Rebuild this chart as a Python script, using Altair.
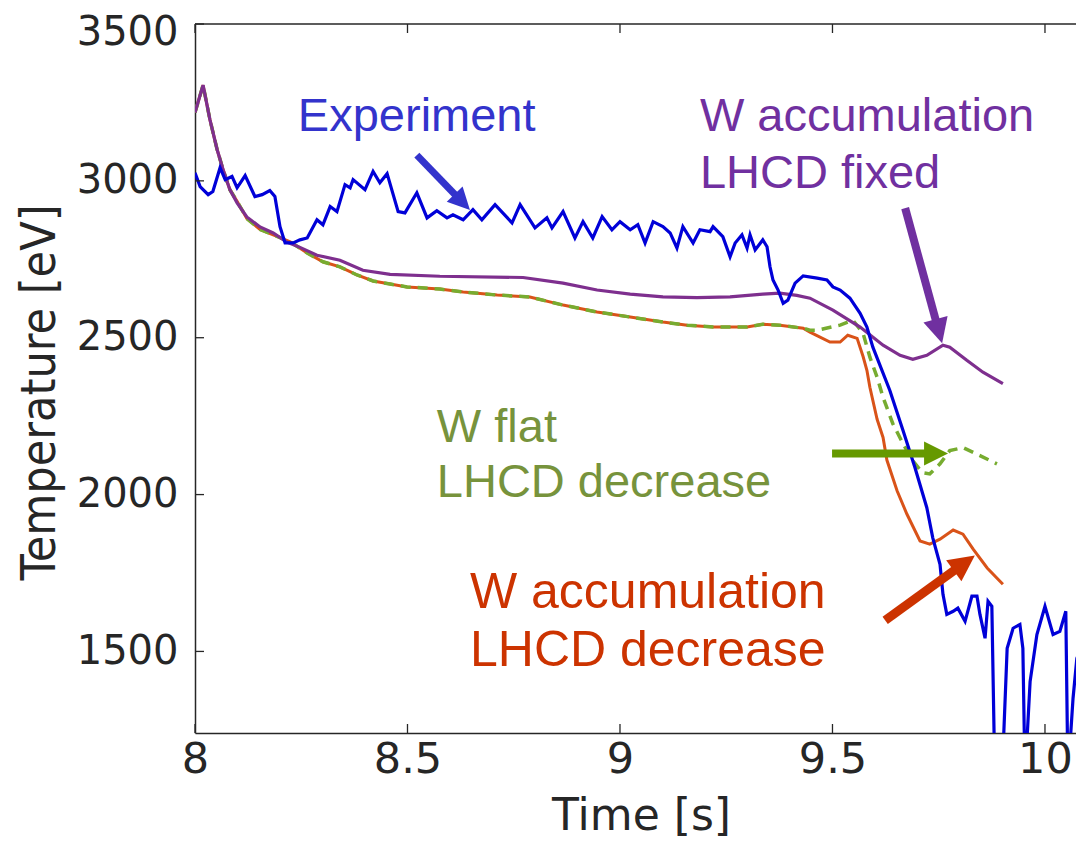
import math
import altair as alt
import pandas as pd

# ---------------- data ----------------
exp_t = [8.000, 8.012, 8.031, 8.042, 8.059, 8.071, 8.087, 8.099, 8.118, 8.141, 8.158, 8.176,
         8.188, 8.200, 8.212, 8.231, 8.247, 8.264, 8.287, 8.301, 8.318, 8.334, 8.353, 8.365,
         8.372, 8.400, 8.419, 8.435, 8.452, 8.478, 8.494, 8.522, 8.546, 8.569, 8.593, 8.607,
         8.631, 8.654, 8.675, 8.706, 8.746, 8.765, 8.800, 8.828, 8.840, 8.866, 8.894, 8.913,
         8.936, 8.958, 8.981, 9.000, 9.024, 9.042, 9.059, 9.078, 9.101, 9.118, 9.134, 9.148,
         9.172, 9.188, 9.212, 9.219, 9.242, 9.259, 9.271, 9.287, 9.299, 9.306, 9.318, 9.336,
         9.346, 9.353, 9.360, 9.372, 9.384, 9.395, 9.412, 9.431, 9.464, 9.487, 9.501, 9.518,
         9.541, 9.565, 9.581, 9.595, 9.635, 9.666, 9.694, 9.722, 9.736, 9.753, 9.760, 9.769,
         9.784, 9.795, 9.812, 9.828, 9.840, 9.847, 9.859, 9.866, 9.875, 9.882, 9.899, 9.911,
         9.925, 9.941, 9.948, 9.953, 9.965, 9.981, 10.000, 10.019, 10.035, 10.049,
         10.054, 10.066, 10.075, 10.092]
exp_te = [3026, 2982, 2956, 2966, 3042, 3004, 3014, 2978, 3017, 2950, 2956, 2969,
          2950, 2854, 2802, 2802, 2812, 2818, 2876, 2860, 2918, 2902, 2988, 2978,
          3004, 2972, 3030, 2994, 3023, 2902, 2898, 2962, 2882, 2905, 2882, 2892,
          2876, 2908, 2876, 2924, 2866, 2924, 2850, 2882, 2850, 2902, 2818, 2870,
          2818, 2886, 2844, 2870, 2844, 2860, 2802, 2870, 2854, 2834, 2786, 2854,
          2802, 2844, 2838, 2854, 2822, 2758, 2802, 2828, 2786, 2828, 2780, 2812,
          2790, 2726, 2684, 2652, 2610, 2620, 2674, 2697, 2690, 2684, 2662, 2652,
          2626, 2578, 2534, 2470, 2332, 2204, 2086, 1958, 1862, 1778, 1682, 1618,
          1628, 1638, 1596, 1676, 1676, 1618, 1542, 1660, 1644, 1100, 1100, 1510,
          1574, 1586, 1510, 1100, 1404, 1554, 1644, 1554, 1564, 1628,
          1100, 1350, 1478, 1532]

fixed_t = [8.000, 8.019, 8.035, 8.052, 8.066, 8.082, 8.099, 8.122, 8.153, 8.184, 8.216,
           8.247, 8.287, 8.341, 8.395, 8.459, 8.576, 8.772, 8.866, 8.946, 9.024, 9.101,
           9.181, 9.259, 9.336, 9.376, 9.416, 9.447, 9.501, 9.565, 9.619, 9.659, 9.689,
           9.722, 9.760, 9.776, 9.816, 9.854, 9.901]
fixed_te = [3218, 3305, 3196, 3100, 3036, 2972, 2930, 2885, 2853, 2834, 2805,
            2788, 2763, 2747, 2715, 2702, 2696, 2692, 2674, 2652, 2639, 2630,
            2628, 2630, 2639, 2642, 2635, 2626, 2588, 2534, 2476, 2444, 2431,
            2444, 2476, 2470, 2428, 2390, 2354]

common_t = [8.000, 8.019, 8.035, 8.052, 8.066, 8.082, 8.099, 8.122, 8.153, 8.184, 8.224,
            8.264, 8.301, 8.341, 8.381, 8.419, 8.459, 8.499, 8.576, 8.631, 8.711, 8.788,
            8.866, 8.946, 9.024, 9.101, 9.158, 9.219, 9.299, 9.336, 9.376, 9.431]
common_te = [3218, 3305, 3196, 3100, 3036, 2972, 2935, 2880, 2845, 2828, 2806,
             2770, 2742, 2726, 2700, 2681, 2671, 2662, 2655, 2646, 2636, 2630,
             2604, 2582, 2566, 2550, 2540, 2534, 2534, 2543, 2540, 2530]

flat_t = common_t + [9.447, 9.464, 9.518, 9.548, 9.572, 9.588, 9.605, 9.619, 9.642, 9.666,
                     9.689, 9.711, 9.729, 9.753, 9.776, 9.807, 9.847, 9.887]
flat_te = common_te + [2524, 2524, 2540, 2556, 2514, 2438, 2374, 2310, 2226, 2162,
                       2108, 2070, 2066, 2098, 2140, 2150, 2124, 2098]

acc_t = common_t + [9.447, 9.494, 9.518, 9.536, 9.558, 9.572, 9.581, 9.588, 9.605, 9.619,
                    9.628, 9.652, 9.675, 9.706, 9.729, 9.753, 9.784, 9.807, 9.831, 9.864,
                    9.901]
acc_te = common_te + [2518, 2486, 2486, 2508, 2498, 2440, 2396, 2342, 2240, 2182,
                      2110, 2012, 1938, 1852, 1842, 1858, 1887, 1874, 1826, 1766,
                      1714]

x_ticks = [8, 8.5, 9, 9.5, 10]
y_ticks = [1500, 2000, 2500, 3000, 3500]

ann_text = ["Experiment", "W accumulation", "LHCD fixed", "W flat", "LHCD decrease",
            "W accumulation", "LHCD decrease"]
ann_x = [8.242, 9.188, 9.188, 8.569, 8.569, 8.647, 8.647]
ann_y = [3159, 3159, 2977, 2167, 1991, 1640, 1455]
ann_color = ["#3333CC", "#7030A0", "#7030A0", "#77933C", "#77933C", "#CC3300", "#CC3300"]
ann_size = [47, 47, 47, 47, 47, 50, 50]

arr_x0 = [8.522, 9.671, 9.499, 9.624]
arr_y0 = [3082, 2913, 2131, 1599]
arr_x1 = [8.647, 9.758, 9.772, 9.835]
arr_y1 = [2907, 2482, 2131, 1806]
arr_color = ["#3333CC", "#7030A0", "#669900", "#CC3300"]
arr_width = [7, 8, 8, 9]
arr_head = [22, 25, 24, 26]

# ---------------- layout ----------------
W, H = 881, 709
X_DOM = [8, 10.073]
Y_DOM = [1240, 3500]
PX_X = W / (X_DOM[1] - X_DOM[0])
PX_Y = H / (Y_DOM[1] - Y_DOM[0])
AXC = "#262626"
COND = "DejaVu Sans Condensed"

xs = alt.Scale(domain=X_DOM, nice=False, zero=False)
ys = alt.Scale(domain=Y_DOM, nice=False, zero=False)

x_axis = alt.Axis(values=x_ticks, format="~g", title="Time [s]", grid=False, ticks=False,
                  domainColor=AXC, domainWidth=1.5, labelFont="DejaVu Sans",
                  labelFontSize=43, labelColor=AXC, labelPadding=5, labelFlush=False,
                  titleFont="DejaVu Sans", titleFontSize=44, titleFontWeight="normal",
                  titleColor=AXC, titleX=446, titleY=96.5, titleBaseline="alphabetic",
                  titleAlign="center")
y_axis = alt.Axis(values=y_ticks, format="d", title="Temperature [eV]", grid=False, ticks=False,
                  domainColor=AXC, domainWidth=1.5, labelFont="DejaVu Sans",
                  labelFontSize=40, labelColor=AXC, labelPadding=17, labelFlush=False,
                  labelOffset={"condition": {"test": "datum.value >= 3500", "value": 8}, "value": 0},
                  titleFont=COND, titleFontSize=48, titleFontWeight="normal", titleColor=AXC,
                  titleX=-155, titleY=368, titleAngle=270, titleBaseline="middle",
                  titleAlign="center")


def X(f):
    return alt.X(f, type="quantitative", scale=xs, axis=x_axis)


def Y(f):
    return alt.Y(f, type="quantitative", scale=ys, axis=y_axis)


def series(t, v):
    return pd.DataFrame({"t": t, "v": v})


acc_df = series(acc_t, acc_te)
flat_df = series(flat_t, flat_te)
fixed_df = series(fixed_t, fixed_te)
exp_df = series(exp_t, exp_te)

l_acc = alt.Chart(acc_df).mark_line(color="#D95319", strokeWidth=3, clip=True).encode(
    x=X("t"), y=Y("v"), order="t:Q")
l_flat = alt.Chart(flat_df).mark_line(color="#77AC30", strokeWidth=3.5, strokeDash=[10, 7],
                                      clip=True).encode(x=X("t"), y=Y("v"), order="t:Q")
l_fixed = alt.Chart(fixed_df).mark_line(color="#7E2F8E", strokeWidth=3.2, clip=True).encode(
    x=X("t"), y=Y("v"), order="t:Q")
l_exp = alt.Chart(exp_df).mark_line(color="#0000D8", strokeWidth=3.2, clip=True).encode(
    x=X("t"), y=Y("v"), order="t:Q")

# frame top line and inward ticks
top_line = alt.Chart(pd.DataFrame({"a": [0]})).mark_rule(color=AXC, strokeWidth=1.5).encode(
    x=alt.value(0), x2=alt.value(W), y=alt.value(0))
xt_df = pd.DataFrame({"t": x_ticks})
yt_df = pd.DataFrame({"v": y_ticks})
bt = alt.Chart(xt_df).mark_rule(color=AXC, strokeWidth=1.3).encode(
    x=X("t"), y=alt.value(H), y2=alt.value(H - 9))
tt = alt.Chart(xt_df).mark_rule(color=AXC, strokeWidth=1.3).encode(
    x=X("t"), y=alt.value(0), y2=alt.value(9))
lt = alt.Chart(yt_df).mark_rule(color=AXC, strokeWidth=1.3).encode(
    y=Y("v"), x=alt.value(0), x2=alt.value(9))

# arrows
rows = []
for x0, y0, x1, y1, c, w, hl in zip(arr_x0, arr_y0, arr_x1, arr_y1, arr_color, arr_width, arr_head):
    dxp = (x1 - x0) * PX_X
    dyp = (y1 - y0) * PX_Y
    ang = math.degrees(math.atan2(dxp, dyp)) % 360
    th = math.radians(ang)
    xe = x1 - 0.7 * hl * math.sin(th) / PX_X
    ye = y1 - 0.7 * hl * math.cos(th) / PX_Y
    rows.append({"x0": x0, "y0": y0, "xe": xe, "ye": ye, "x1": x1, "y1": y1, "c": c,
                 "w": w, "ang": ang, "sz": 4 * hl * hl})
arr_df = pd.DataFrame(rows)
shafts = alt.Chart(arr_df).mark_rule(strokeCap="butt").encode(
    x=X("x0"), y=Y("y0"), x2="xe:Q", y2="ye:Q", color=alt.Color("c:N", scale=None),
    strokeWidth=alt.StrokeWidth("w:Q", scale=None))
heads = alt.Chart(arr_df).mark_point(shape="M0,0L0.5,1L-0.5,1Z", filled=True, opacity=1,
                                      strokeWidth=0).encode(
    x=X("x1"), y=Y("y1"), color=alt.Color("c:N", scale=None),
    angle=alt.Angle("ang:Q", scale=None), size=alt.Size("sz:Q", scale=None))

ann_df = pd.DataFrame({"x": ann_x, "y": ann_y, "txt": ann_text, "c": ann_color, "s": ann_size})
texts = alt.Chart(ann_df).mark_text(align="left", baseline="alphabetic",
                                    font="Liberation Sans").encode(
    x=X("x"), y=Y("y"), text="txt:N", color=alt.Color("c:N", scale=None),
    size=alt.Size("s:Q", scale=None))

chart = alt.layer(l_acc, l_flat, l_fixed, l_exp, top_line, bt, tt, lt, shafts, heads, texts).properties(
    width=W, height=H,
    background="white",
    autosize=alt.AutoSizeParams(type="none"),
    padding={"left": 187, "top": 16, "right": 0, "bottom": 107},
).configure_view(strokeWidth=0)

chart.save("out.html", embed_options={"renderer": "svg", "actions": False})
